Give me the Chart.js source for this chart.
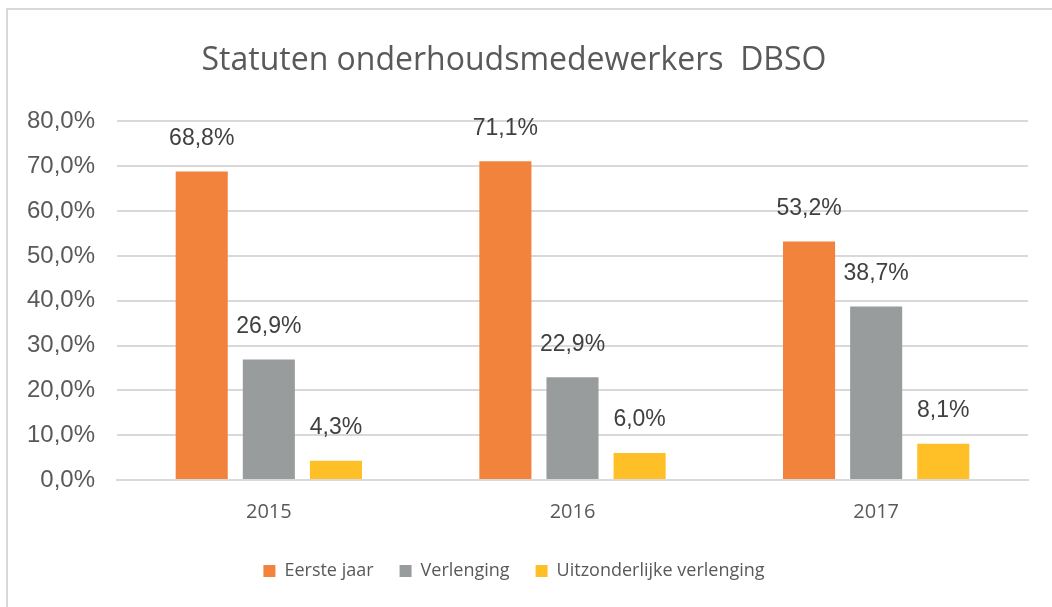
<!DOCTYPE html>
<html>
<head>
<meta charset="utf-8">
<script src="https://cdn.jsdelivr.net/npm/chart.js@4"></script>
<style>
    body { margin: 0; background: #fff; overflow: hidden; }
    #wrap { position: relative; width: 1052px; height: 607px; }
    #kader { position: absolute; left: 6px; top: 8px; width: 1100px; height: 700px; border: 2px solid #d9d9d9; }
    canvas { position: absolute; left: 0; top: 0; }
</style>
</head>
<body>
<div id="wrap">
    <div id="kader"></div>
    <canvas id="grafico" width="1052" height="607"></canvas>
</div>
<script>
var jaren = ['2015', '2016', '2017'];
var eersteJaar = [68.8, 71.1, 53.2];
var verlenging = [26.9, 22.9, 38.7];
var uitzonderlijk = [4.3, 6.0, 8.1];
var titel = 'Statuten onderhoudsmedewerkers  DBSO';

function procent(v, dec) {
    return v.toFixed(dec).replace('.', ',') + '%';
}

var labelsPlugin = {
    id: 'labels',
    afterDatasetsDraw: function (chart) {
        var ctx = chart.ctx;
        ctx.save();
        ctx.fillStyle = '#404040';
        ctx.font = '23px "Liberation Sans", Arial';
        ctx.textAlign = 'center';
        ctx.textBaseline = 'middle';
        chart.data.datasets.forEach(function (ds, i) {
            chart.getDatasetMeta(i).data.forEach(function (bar, j) {
                ctx.fillText(procent(ds.data[j], 1), bar.x, bar.y - 33);
            });
        });
        ctx.restore();
    }
};

var ctx = document.getElementById('grafico').getContext('2d');
var myChart = new Chart(ctx, {
    type: 'bar',
    data: {
        labels: jaren,
        datasets: [
            { label: 'Eerste jaar', data: eersteJaar, backgroundColor: '#f2833d' },
            { label: 'Verlenging', data: verlenging, backgroundColor: '#999c9c' },
            { label: 'Uitzonderlijke verlenging', data: uitzonderlijk, backgroundColor: '#ffbf27' }
        ]
    },
    options: {
        responsive: false,
        animation: false,
        categoryPercentage: 0.663,
        barPercentage: 0.776,
        layout: { padding: { left: 0, right: 24, top: 0, bottom: 17 } },
        plugins: {
            title: {
                display: true,
                text: titel,
                color: '#595959',
                font: { family: '"Open Sans", "Noto Sans"', size: 32, weight: 'normal' },
                padding: { top: 42, bottom: 41 }
            },
            legend: {
                position: 'bottom',
                labels: {
                    color: '#595959',
                    font: { family: '"Open Sans", "Noto Sans"', size: 18 },
                    boxWidth: 12,
                    boxHeight: 12,
                    padding: 26
                }
            },
            tooltip: { enabled: false }
        },
        scales: {
            x: {
                grid: { display: false },
                border: { color: '#d9d9d9', width: 2 },
                ticks: { color: '#595959', font: { family: '"Open Sans", "Noto Sans"', size: 20 }, padding: 12 }
            },
            y: {
                min: 0,
                max: 80,
                afterFit: function (scale) { scale.width = 117; },
                grid: { color: '#d9d9d9', lineWidth: 2, drawTicks: false },
                border: { display: false },
                ticks: {
                    stepSize: 10,
                    color: '#595959',
                    padding: 22,
                    font: { family: '"Liberation Sans", Arial', size: 24 },
                    callback: function (v) { return procent(v, 1); }
                }
            }
        }
    },
    plugins: [labelsPlugin]
});
</script>
</body>
</html>
